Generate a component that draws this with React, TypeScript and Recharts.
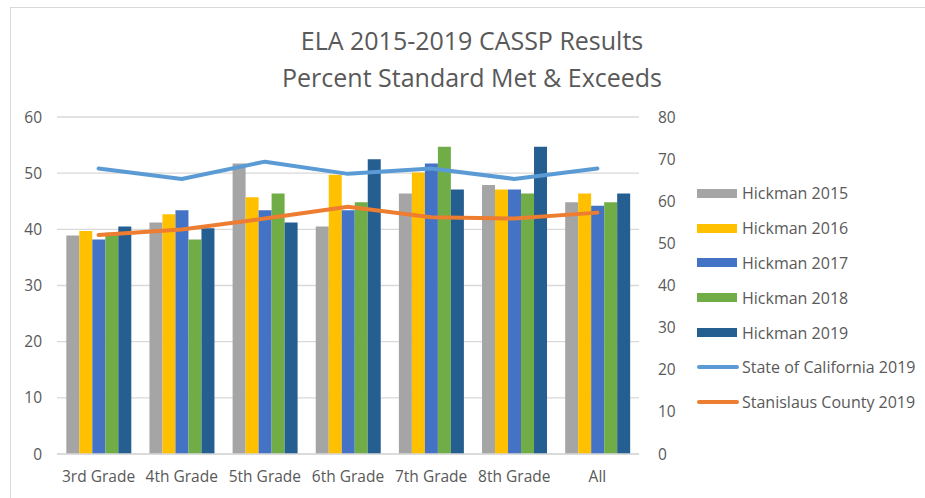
import React from 'react';
import { ComposedChart, Bar, Line, XAxis, YAxis, CartesianGrid, Legend } from 'recharts';

const categories = ['3rd Grade', '4th Grade', '5th Grade', '6th Grade', '7th Grade', '8th Grade', 'All'];
const hickman2015 = [38.9, 41.2, 51.7, 40.5, 46.4, 47.9, 44.8];
const hickman2016 = [39.7, 42.7, 45.7, 49.7, 50.1, 47.1, 46.4];
const hickman2017 = [38.2, 43.4, 43.4, 43.4, 51.7, 47.1, 44.2];
const hickman2018 = [39.4, 38.2, 46.4, 44.8, 54.7, 46.4, 44.8];
const hickman2019 = [40.5, 40.2, 41.2, 52.5, 47.1, 54.7, 46.4];
const california2019 = [67.8, 65.3, 69.4, 66.5, 67.8, 65.3, 67.8];
const stanislaus2019 = [52.0, 53.3, 55.9, 58.7, 56.2, 55.9, 57.3];
const leftTicks = [0, 10, 20, 30, 40, 50, 60];
const rightTicks = [0, 10, 20, 30, 40, 50, 60, 70, 80];

const title1 = 'ELA 2015-2019 CASSP Results';
const title2 = 'Percent Standard Met & Exceeds';

const barSeries = [
  { key: 'h2015', name: 'Hickman 2015', values: hickman2015, color: '#A5A5A5' },
  { key: 'h2016', name: 'Hickman 2016', values: hickman2016, color: '#FFC000' },
  { key: 'h2017', name: 'Hickman 2017', values: hickman2017, color: '#4472C4' },
  { key: 'h2018', name: 'Hickman 2018', values: hickman2018, color: '#70AD47' },
  { key: 'h2019', name: 'Hickman 2019', values: hickman2019, color: '#255E91' },
];
const lineSeries = [
  { key: 'ca', name: 'State of California 2019', values: california2019, color: '#5B9BD5' },
  { key: 'stan', name: 'Stanislaus County 2019', values: stanislaus2019, color: '#ED7D31' },
];

const data = categories.map((c, i) => {
  const row: Record<string, any> = { name: c };
  barSeries.forEach((s) => (row[s.key] = s.values[i]));
  lineSeries.forEach((s) => (row[s.key] = s.values[i]));
  return row;
});

const FONT = '"Open Sans", sans-serif';
const TEXT = '#595959';
const TICK_SIZE = 15.5;

const renderLegend = () => (
  <div style={{ fontFamily: FONT, fontSize: 16, color: TEXT, whiteSpace: 'nowrap' }}>
    {barSeries.map((s) => (
      <div key={s.key} style={{ height: 34.8, display: 'flex', alignItems: 'center' }}>
        <div style={{ width: 40, height: 9, background: s.color, marginRight: 5 }} />
        <span>{s.name}</span>
      </div>
    ))}
    {lineSeries.map((s) => (
      <div key={s.key} style={{ height: 34.8, display: 'flex', alignItems: 'center' }}>
        <div style={{ width: 42, height: 4, background: s.color, marginRight: 3, borderRadius: 2 }} />
        <span>{s.name}</span>
      </div>
    ))}
  </div>
);

export default function App() {
  return (
    <div style={{ position: 'fixed', left: 0, top: 0, width: 925, height: 498, overflow: 'hidden', background: '#fff' }}>
      <div
        style={{
          position: 'absolute',
          left: 10,
          top: 7,
          width: 1000,
          height: 600,
          border: '1.5px solid #D9D9D9',
          boxSizing: 'border-box',
        }}
      />
      <div
        style={{
          position: 'absolute',
          left: 222,
          width: 500,
          top: 22,
          textAlign: 'center',
          fontFamily: FONT,
          fontSize: 25,
          lineHeight: '36.5px',
          color: TEXT,
        }}
      >
        <div>{title1}</div>
        <div>{title2}</div>
      </div>
      <div style={{ position: 'absolute', left: 0, top: 0 }}>
        <ComposedChart
          width={925}
          height={498}
          data={data}
          margin={{ top: 117, right: 246, bottom: 14, left: 17 }}
          barCategoryGap="11.2%"
          barGap={0}
        >
          <CartesianGrid yAxisId="left" vertical={false} stroke="#D9D9D9" strokeWidth={1.3} />
          <XAxis
            dataKey="name"
            tickLine={false}
            axisLine={{ stroke: '#D9D9D9', strokeWidth: 1.3 }}
            tick={{ fill: TEXT, fontSize: TICK_SIZE, fontFamily: FONT }}
            tickMargin={11}
            interval={0}
            height={30}
          />
          <YAxis
            yAxisId="left"
            domain={[0, 60]}
            ticks={leftTicks}
            tickLine={false}
            axisLine={false}
            tick={{ fill: TEXT, fontSize: TICK_SIZE, fontFamily: FONT }}
            tickMargin={9}
            width={40}
          />
          <YAxis
            yAxisId="right"
            orientation="right"
            domain={[0, 80]}
            ticks={rightTicks}
            tickLine={false}
            axisLine={false}
            tick={{ fill: TEXT, fontSize: TICK_SIZE, fontFamily: FONT, textAnchor: 'start' }}
            tickMargin={13}
            width={40}
          />
          {barSeries.map((s) => (
            <Bar key={s.key} yAxisId="left" dataKey={s.key} name={s.name} fill={s.color} isAnimationActive={false} />
          ))}
          {lineSeries.map((s) => (
            <Line
              key={s.key}
              yAxisId="right"
              type="linear"
              dataKey={s.key}
              name={s.name}
              stroke={s.color}
              strokeWidth={4}
              dot={false}
              strokeLinecap="round"
              strokeLinejoin="round"
              isAnimationActive={false}
            />
          ))}
          <Legend
            layout="horizontal"
            verticalAlign="middle"
            align="center"
            content={renderLegend}
            wrapperStyle={{ position: 'absolute', left: 697, top: 176, width: 228, height: 250 }}
          />
        </ComposedChart>
      </div>
    </div>
  );
}
